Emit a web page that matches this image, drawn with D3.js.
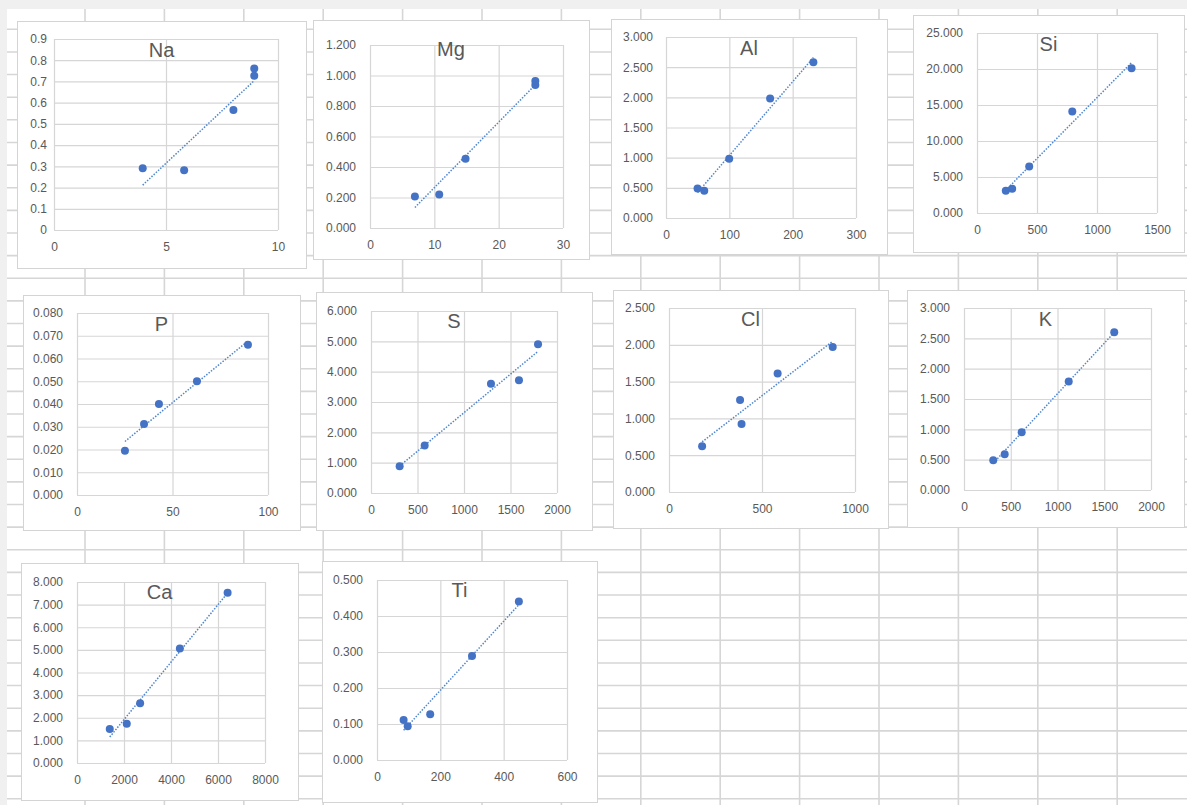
<!DOCTYPE html>
<meta charset="utf-8">
<head>
  <title>Element calibration scatter charts</title>
</head>

<style>
body {
  margin: 0;
  background: #f0f0f0;
  font-family: "Liberation Sans", Arial, sans-serif;
}

svg {
  display: block;
}

.sheet line {
  stroke: #d6d6d6;
  stroke-width: 1.6;
}

.frame {
  fill: #fff;
  stroke: #d4d4d4;
  stroke-width: 1;
}

.axis .domain {
  display: none;
}

.axis line {
  stroke: #d6d6d6;
  stroke-width: 1.2;
}

.axis text {
  fill: #595959;
  font-size: 12px;
  font-family: "Liberation Sans", Arial, sans-serif;
}

.title {
  fill: #595959;
  font-size: 20px;
  text-anchor: middle;
}

.trend {
  fill: none;
  stroke: #4f86cf;
  stroke-width: 1.5;
  stroke-dasharray: 1.5 1.5;
}

.dot {
  fill: #4472c4;
}
</style>

<body>
  <svg width="1187" height="805"></svg>

  <script src="https://cdnjs.cloudflare.com/ajax/libs/d3/7.8.5/d3.min.js"></script>

  <script>
// element names, in sheet order
var elements = ['Na', 'Mg', 'Al', 'Si', 'P', 'S', 'Cl', 'K', 'Ca', 'Ti'];

var naX = [3.96, 5.81, 8.01, 8.94, 8.94];
var naY = [0.291, 0.282, 0.565, 0.727, 0.761];
var mgX = [6.98, 10.76, 14.85, 25.7, 25.7];
var mgY = [0.207, 0.220, 0.454, 0.938, 0.964];
var alX = [49.8, 60.4, 99.8, 164.4, 232.7];
var alY = [0.490, 0.453, 0.984, 1.980, 2.580];
var siX = [240, 293, 435, 794, 1288];
var siY = [3.10, 3.38, 6.47, 14.10, 20.10];
var pX = [25.1, 35.1, 42.9, 62.8, 89.5];
var pY = [0.0195, 0.0312, 0.0400, 0.0500, 0.0660];
var sX = [308, 577, 1290, 1591, 1796];
var sY = [0.88, 1.57, 3.60, 3.72, 4.90];
var clX = [178, 382, 390, 584, 880];
var clY = [0.62, 1.25, 0.924, 1.61, 1.97];
var kX = [313, 435, 617, 1120, 1607];
var kY = [0.49, 0.59, 0.95, 1.79, 2.60];
var caX = [1394, 2118, 2686, 4377, 6409];
var caY = [1.50, 1.73, 2.64, 5.06, 7.53];
var tiX = [84, 96.9, 168, 300, 448];
var tiY = [0.111, 0.094, 0.127, 0.289, 0.440];

// axis ranges and tick steps
var xMax  = [10, 30, 300, 1500, 100, 2000, 1000, 2000, 8000, 600];
var xStep = [5, 10, 100, 500, 50, 500, 500, 500, 2000, 200];
var yMax  = [0.9, 1.2, 3, 25, 0.08, 6, 2.5, 3, 8, 0.5];
var yStep = [0.1, 0.2, 0.5, 5, 0.01, 1, 0.5, 0.5, 1, 0.1];
var yDigits = [null, 3, 3, 3, 3, 3, 3, 3, 3, 3];

var xs = [naX, mgX, alX, siX, pX, sX, clX, kX, caX, tiX];
var ys = [naY, mgY, alY, siY, pY, sY, clY, kY, caY, tiY];

// layout of the chart frames on the sheet: [x, y, w, h]
var frames = [
  [17, 21, 289, 247], [313, 20, 276, 239], [611, 19, 276, 235], [913, 15, 271, 237],
  [23, 295, 277, 235], [316, 292, 276, 238], [613, 290, 275, 238], [907, 290, 277, 237],
  [21, 563, 277, 237], [322, 561, 275, 241]
];
var plots = [
  [54, 39, 224, 191], [370, 45, 193, 183], [666, 37, 190, 181], [977, 33, 180, 180],
  [77, 313, 191, 182], [371, 311, 186, 182], [669, 308, 186, 184], [964, 308, 187, 182],
  [77, 582, 188, 181], [377, 580, 190, 180]
];
var labelGap = [7, 14, 13, 14, 14, 14, 14, 14, 14, 14];

var svg = d3.select('svg');

// spreadsheet background
svg.append('rect')
  .attr('x', 7).attr('y', 9)
  .attr('width', 1187).attr('height', 805)
  .attr('fill', '#fff');

var sheet = svg.append('g').attr('class', 'sheet');

sheet.selectAll('line.v')
  .data(d3.range(0, 14))
  .enter()
  .append('line')
  .attr('class', 'v')
  .attr('x1', function(k) { return 85 + 79.4 * k; })
  .attr('x2', function(k) { return 85 + 79.4 * k; })
  .attr('y1', 9)
  .attr('y2', 805);

sheet.selectAll('line.h')
  .data(d3.range(0, 35))
  .enter()
  .append('line')
  .attr('class', 'h')
  .attr('x1', 7)
  .attr('x2', 1187)
  .attr('y1', function(k) { return 29.3 + 22.63 * k; })
  .attr('y2', function(k) { return 29.3 + 22.63 * k; });

function steps(max, step) {
  var n = Math.round(max / step);
  return d3.range(0, n + 1).map(function(i) { return +(i * step).toFixed(6); });
}

function fit(x, y) {
  var mx = d3.mean(x), my = d3.mean(y);
  var sxy = d3.sum(x, function(d, i) { return (d - mx) * (y[i] - my); });
  var sxx = d3.sum(x, function(d) { return (d - mx) * (d - mx); });
  var b = sxy / sxx;
  return function(v) { return my + b * (v - mx); };
}

elements.forEach(function(name, i) {
  var f = frames[i], p = plots[i];
  var g = svg.append('g');

  g.append('rect')
    .attr('class', 'frame')
    .attr('x', f[0] + 0.5).attr('y', f[1] + 0.5)
    .attr('width', f[2]).attr('height', f[3]);

  var x = d3.scaleLinear().domain([0, xMax[i]]).range([p[0], p[0] + p[2]]);
  var y = d3.scaleLinear().domain([0, yMax[i]]).range([p[1] + p[3], p[1]]);

  var yFmt = yDigits[i] === null
    ? function(d) { return String(+d.toFixed(2)); }
    : d3.format('.' + yDigits[i] + 'f');

  g.append('g')
    .attr('class', 'axis')
    .attr('transform', 'translate(' + p[0] + ',0)')
    .call(d3.axisLeft(y)
      .tickValues(steps(yMax[i], yStep[i]))
      .tickSize(-p[2])
      .tickPadding(labelGap[i])
      .tickFormat(yFmt));

  g.append('g')
    .attr('class', 'axis')
    .attr('transform', 'translate(0,' + (p[1] + p[3]) + ')')
    .call(d3.axisBottom(x)
      .tickValues(steps(xMax[i], xStep[i]))
      .tickSize(-p[3])
      .tickPadding(12)
      .tickFormat(d3.format('d')));

  // linear trendline across the data range
  var line = fit(xs[i], ys[i]);
  var ext = d3.extent(xs[i]);
  g.append('line')
    .attr('class', 'trend')
    .attr('x1', x(ext[0])).attr('y1', y(line(ext[0])))
    .attr('x2', x(ext[1])).attr('y2', y(line(ext[1])));

  g.selectAll('circle')
    .data(xs[i].map(function(d, j) { return [d, ys[i][j]]; }))
    .enter()
    .append('circle')
    .attr('class', 'dot')
    .attr('r', 4)
    .attr('cx', function(d) { return x(d[0]); })
    .attr('cy', function(d) { return y(d[1]); });

  g.append('text')
    .attr('class', 'title')
    .attr('x', f[0] + f[2] / 2)
    .attr('y', f[1] + 36)
    .text(name);
});
  </script>
</body>
</html>
